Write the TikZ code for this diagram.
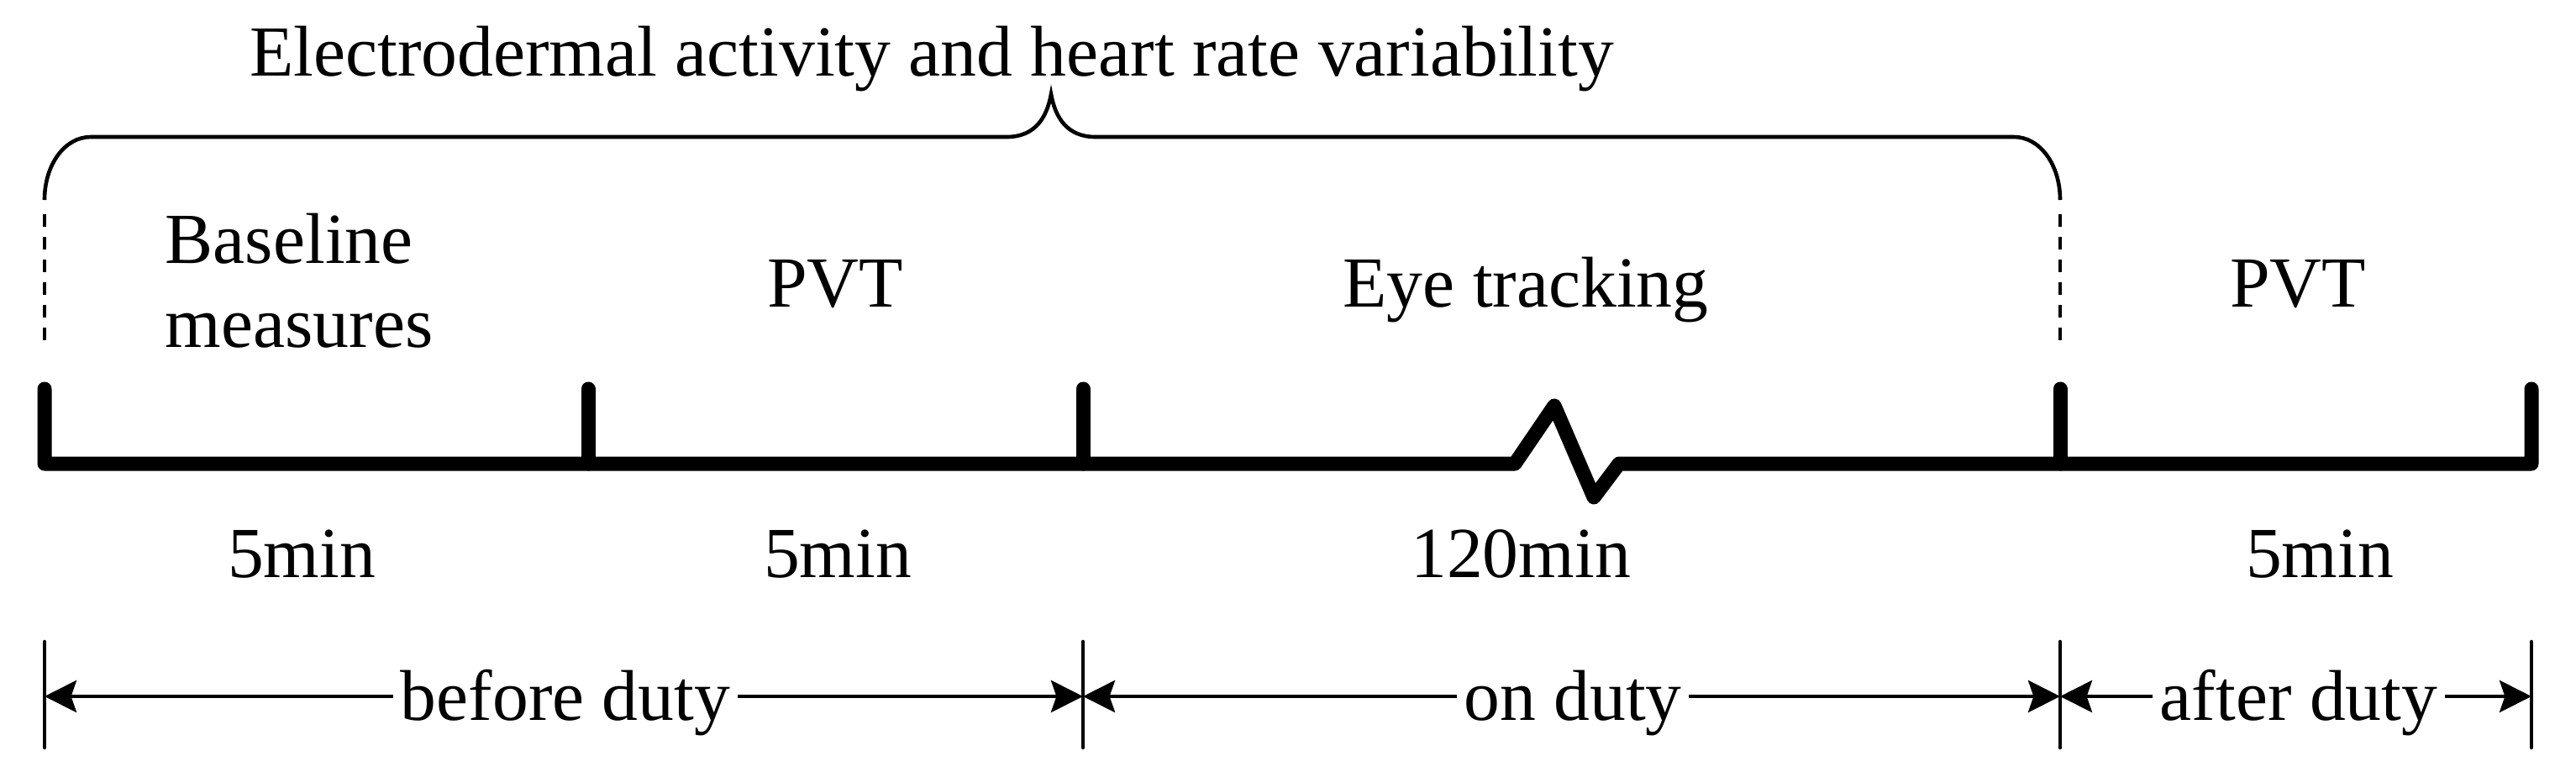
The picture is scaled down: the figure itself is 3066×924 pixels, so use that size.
\documentclass[tikz,border=0pt]{standalone}
\usepackage{fontspec}
\setmainfont{Liberation Serif}
\usetikzlibrary{arrows.meta}
\begin{document}
\begin{tikzpicture}[x=0.25pt,y=-0.25pt,
  lbl/.style={font=\fontsize{21.4pt}{25pt}\selectfont, inner sep=0pt},
  axis/.style={line width=4.25pt, line cap=round, line join=round},
  brace/.style={line width=1.15pt},
  guide/.style={line width=1.15pt, dash pattern=on 3.75pt off 3pt},
  bar/.style={line width=1.15pt, line cap=round},
  span/.style={line width=1.15pt, -{Stealth[length=9.5pt,width=9.5pt,inset=1.6pt]}}]
\useasboundingbox (0,0) rectangle (3066,924);

% ---- phase boundaries on the time axis
\coordinate (t0) at (53,552);
\coordinate (t1) at (700,552);
\coordinate (t2) at (1289,552);
\coordinate (t3) at (2452,552);
\coordinate (t4) at (3013,552);

% ---- time axis with a break mark in the long phase
\draw[axis] (53,463) -- (t0) -- (1803,552) -- (1850,483) -- (1897,592)
  -- (1927,552) -- (t4) -- (3013,463);
\foreach \p in {t1,t2,t3}
  \draw[axis] (\p) -- ++(0,-89);

% ---- recording span brace
\draw[brace] (53,238) .. controls (53,196) and (77,163) .. (108,163)
  -- (1198,163) .. controls (1232,163) and (1246,140) .. (1251,112)
  .. controls (1256,140) and (1270,163) .. (1304,163)
  -- (2397,163) .. controls (2428,163) and (2452,196) .. (2452,238);
\draw[guide] (53,255) -- (53,415);
\draw[guide] (2452,255) -- (2452,415);

\node[lbl, anchor=base] (title) at (1109,90)
  {Electrodermal activity and heart rate variability};

% ---- phase names
\node[lbl, anchor=south west, align=left] (base) at (196,415) {Baseline\\measures};
\node[lbl, anchor=base] (pvt1) at (994,365) {PVT};
\node[lbl, anchor=base] (eye) at (1816,365) {Eye tracking};
\node[lbl, anchor=base] (pvt2) at (2735,365) {PVT};

% ---- durations
\node[lbl, anchor=base] (d1) at (359,687) {5min};
\node[lbl, anchor=base] (d2) at (997,687) {5min};
\node[lbl, anchor=base] (d3) at (1810,687) {120min};
\node[lbl, anchor=base] (d4) at (2761,687) {5min};

% ---- duty periods
\foreach \x in {53,1289,2452,3013}
  \draw[bar] (\x,764) -- (\x,890);
\coordinate (a0) at (53,829);
\coordinate (a1) at (1289,829);
\coordinate (a2) at (2452,829);
\coordinate (a3) at (3013,829);

\node[lbl, anchor=base, inner xsep=2pt] (before) at (673,857) {before duty};
\node[lbl, anchor=base, inner xsep=2pt] (on) at (1872,857) {on duty};
\node[lbl, anchor=base, inner xsep=2pt] (after) at (2736,857) {after duty};

\draw[span] (before.west |- a0) -- (a0);
\draw[span] (before.east |- a0) -- (a1);
\draw[span] (on.west |- a1) -- (a1);
\draw[span] (on.east |- a1) -- (a2);
\draw[span] (after.west |- a2) -- (a2);
\draw[span] (after.east |- a2) -- (a3);
\end{tikzpicture}
\end{document}
